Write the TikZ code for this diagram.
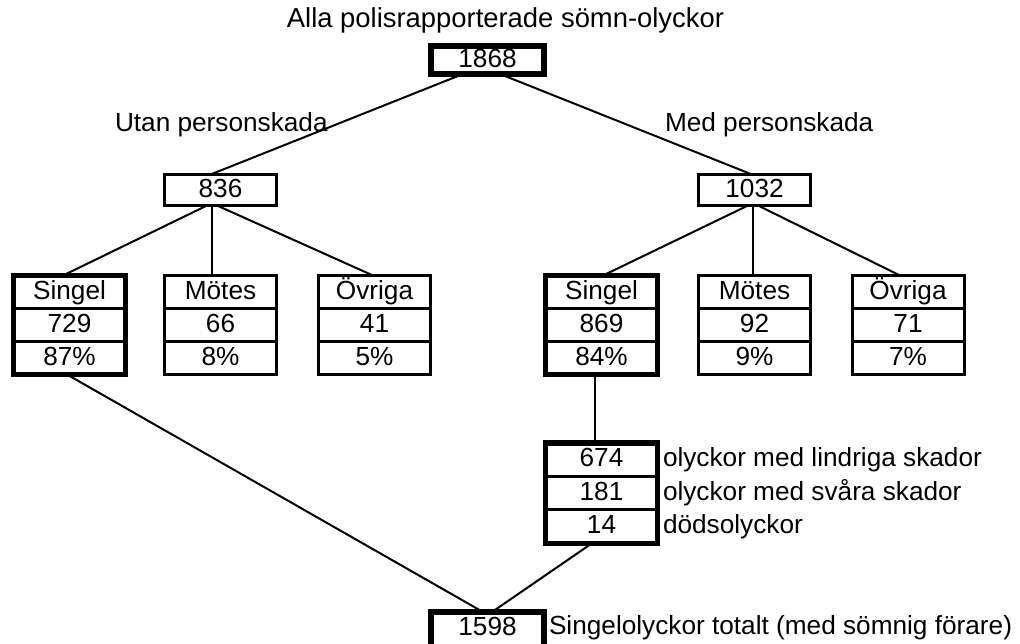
\documentclass[tikz,border=0pt]{standalone}
\usepackage{fontspec}
\setmainfont{Liberation Sans}
\usetikzlibrary{calc}
\begin{document}
\begin{tikzpicture}[x=0.5pt,y=-0.5pt,
  every node/.style={font=\fontsize{13.1pt}{15pt}\selectfont, inner sep=0pt, outer sep=0pt, text height=0.716em, text depth=0pt},
  cell/.style={draw, line width=1.5pt, minimum width=56pt, minimum height=16.5pt},
  gcell/.style={draw, line width=1.5pt, minimum width=56pt, minimum height=16.75pt},
  box/.style={draw, line width=1.5pt, minimum width=56pt, minimum height=15.5pt},
  frame/.style={line width=2.75pt},
  topbox/.style={draw, line width=3pt, minimum width=56.5pt, minimum height=14pt},
  link/.style={line width=1pt},
  lbl/.style={anchor=west}]
\useasboundingbox (0,0) rectangle (1020,643);
\clip (0,0) rectangle (1020,643);

% top
\node[font=\fontsize{13.7pt}{16pt}\selectfont] (title) at (505.5,20) {Alla polisrapporterade sömn-olyckor};
\node[topbox] (n1868) at (487.5,60) {1868};
\node[lbl] (utan) at (115,124) {Utan personskada};
\node[lbl] (med) at (665,124) {Med personskada};
\node[box] (n836) at (220.5,190) {836};
\node[box] (n1032) at (754.5,190) {1032};

% left tier
\node[cell] (ls1) at (69.5,292) {Singel};
\node[cell] (ls2) at (69.5,325) {729};
\node[cell] (ls3) at (69.5,358) {87\%};
\draw[frame] (ls1.north west) rectangle (ls3.south east);
\node[cell] (lm1) at (220.5,292) {Mötes};
\node[cell] (lm2) at (220.5,325) {66};
\node[cell] (lm3) at (220.5,358) {8\%};
\node[cell] (lo1) at (374.5,292) {Övriga};
\node[cell] (lo2) at (374.5,325) {41};
\node[cell] (lo3) at (374.5,358) {5\%};

% right tier
\node[cell] (rs1) at (601.5,292) {Singel};
\node[cell] (rs2) at (601.5,325) {869};
\node[cell] (rs3) at (601.5,358) {84\%};
\draw[frame] (rs1.north west) rectangle (rs3.south east);
\node[cell] (rm1) at (754.5,292) {Mötes};
\node[cell] (rm2) at (754.5,325) {92};
\node[cell] (rm3) at (754.5,358) {9\%};
\node[cell] (ro1) at (908,292) {Övriga};
\node[cell] (ro2) at (908,325) {71};
\node[cell] (ro3) at (908,358) {7\%};

% injury group
\node[gcell] (g1) at (601.5,459.5) {674};
\node[gcell] (g2) at (601.5,493) {181};
\node[gcell] (g3) at (601.5,526.5) {14};
\draw[frame] (g1.north west) rectangle (g3.south east);
\node[lbl] (gl1) at (663,459.5) {olyckor med lindriga skador};
\node[lbl] (gl2) at (663,493) {olyckor med svåra skador};
\node[lbl] (gl3) at (663,526.5) {dödsolyckor};

% total
\node[topbox, minimum height=20pt] (n1598) at (487.5,632) {\raisebox{2pt}{1598}};
\node[lbl] (ltot) at (549,627) {Singelolyckor totalt (med sömnig förare)};

% connectors
\draw[link] ($(n1868.south)+(-24.5,0)$) -- ($(n836.north)+(-10,0)$);
\draw[link] ($(n1868.south)+(12.5,0)$) -- ($(n1032.north)+(-2.5,0)$);
\draw[link] ($(n836.south)+(-13.5,0)$) -- ($(ls1.north)+(-6.5,0)$);
\draw[link] ($(n836.south)+(-8.5,0)$) -- ($(lm1.north)+(-8.5,0)$);
\draw[link] ($(n836.south)+(-3.5,0)$) -- ($(lo1.north)+(-1.5,0)$);
\draw[link] ($(n1032.south)+(-6.5,0)$) -- ($(rs1.north)+(1.5,0)$);
\draw[link] ($(n1032.south)+(-1.5,0)$) -- ($(rm1.north)+(-1.5,0)$);
\draw[link] ($(n1032.south)+(3.5,0)$) -- ($(ro1.north)+(-8,0)$);
\draw[link] ($(rs3.south)+(-6.5,0)$) -- ($(g1.north)+(-6.5,0)$);
\draw[link] ($(ls3.south)+(-2.5,0)$) -- ($(n1598.north)+(-4.5,0)$);
\draw[link] ($(g3.south)+(-9.5,0)$) -- ($(n1598.north)+(4.5,0)$);
\end{tikzpicture}
\end{document}
